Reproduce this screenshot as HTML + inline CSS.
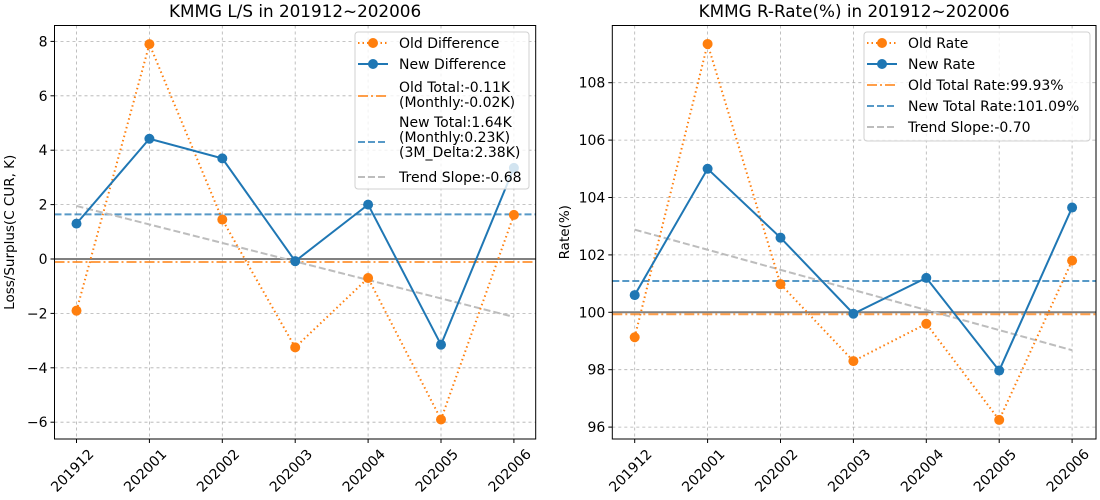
<!DOCTYPE html>
<html><head><meta charset="utf-8"><style>
html,body{margin:0;padding:0;background:#fff;}
svg{display:block;font-family:"DejaVu Sans","Liberation Sans",sans-serif;}
</style></head><body>
<svg id="c" width="1100" height="500" viewBox="0 0 1100 500" xmlns="http://www.w3.org/2000/svg"></svg>
<script>
const categories = ['201912','202001','202002','202003','202004','202005','202006'];
const oldDiff = [-1.9, 7.9, 1.45, -3.25, -0.7, -5.9, 1.62];
const newDiff = [1.3, 4.42, 3.7, -0.08, 2.0, -3.15, 3.35];
const lsTicks = [-6,-4,-2,0,2,4,6,8];
const lsOldTotal = -0.11, lsNewTotal = 1.64, lsTrend = [1.95, -2.13];
const oldRate = [99.13, 109.35, 100.98, 98.3, 99.6, 96.25, 101.8];
const newRate = [100.6, 105.0, 102.6, 99.95, 101.2, 97.97, 103.65];
const rateTicks = [96,98,100,102,104,106,108];
const rateOldTotal = 99.93, rateNewTotal = 101.09, rateTrend = [102.88, 98.68];

const NS='http://www.w3.org/2000/svg';
const svg=document.getElementById('c');
function mk(tag,attrs,parent,text){const e=document.createElementNS(NS,tag);for(const k in attrs)e.setAttribute(k,attrs[k]);if(text!==undefined)e.textContent=text;(parent||svg).appendChild(e);return e;}
const ORANGE='#ff7f0e', BLUE='#1f77b4';

function panel(o){
  const g=mk('g',{});
  
  
  const L=o.left,R=o.right,T=25.5,B=439;
  const x=i=>o.x0+i*72.9;
  const y=v=>o.yRef-(v-o.vRef)*o.ppu;
  categories.forEach((c,i)=>{
    const l=mk('line',{x1:x(i),x2:x(i),y1:T,y2:B,stroke:'#b0b0b0','stroke-width':0.8,'stroke-dasharray':'3,3'},g);
    
  });
  o.ticks.forEach(v=>{
    const l=mk('line',{x1:L,x2:R,y1:y(v),y2:y(v),stroke:'#b0b0b0','stroke-width':0.8,'stroke-dasharray':'3,3'},g);
    
  });
  let h=mk('line',{x1:L,x2:R,y1:y(o.base),y2:y(o.base),stroke:'#808080','stroke-width':2},g);
  
  h=mk('line',{x1:L,x2:R,y1:y(o.oldTotal),y2:y(o.oldTotal),stroke:ORANGE,'stroke-opacity':0.75,'stroke-width':2,'stroke-dasharray':'10,3,2,3'},g);
  
  h=mk('line',{x1:L,x2:R,y1:y(o.newTotal),y2:y(o.newTotal),stroke:BLUE,'stroke-opacity':0.75,'stroke-width':2,'stroke-dasharray':'7,3'},g);
  
  h=mk('line',{x1:x(0),x2:x(6),y1:y(o.trend[0]),y2:y(o.trend[1]),stroke:'#bdbdbd','stroke-width':2,'stroke-dasharray':'7,3'},g);
  
  const pts=a=>a.map((v,i)=>x(i)+','+y(v)).join(' ');
  let p=mk('polyline',{points:pts(o.oldS),fill:'none',stroke:ORANGE,'stroke-width':2,'stroke-dasharray':'1.5,3'},g);
  
  o.oldS.forEach((v,i)=>{const c=mk('circle',{cx:x(i),cy:y(v),r:5,fill:ORANGE},g);});
  p=mk('polyline',{points:pts(o.newS),fill:'none',stroke:BLUE,'stroke-width':2},g);
  
  o.newS.forEach((v,i)=>{const c=mk('circle',{cx:x(i),cy:y(v),r:5,fill:BLUE},g);});
  mk('rect',{x:L-60,y:0,width:R-L+120,height:T,fill:'#fff'},g);
  const f=mk('rect',{x:L,y:T,width:R-L,height:B-T,fill:'none',stroke:'#000','stroke-width':1},g);
  
  categories.forEach((c,i)=>{
    mk('line',{x1:x(i),x2:x(i),y1:B,y2:B+4,stroke:'#000'},g);
    const ax=x(i)+18, ay=B+16;
    const t=mk('text',{x:ax,y:ay,'font-size':14,'text-anchor':'end',transform:`rotate(-45 ${ax} ${ay})`},g,c);
    
  });
  o.ticks.forEach(v=>{
    mk('line',{x1:L-4,x2:L,y1:y(v),y2:y(v),stroke:'#000'},g);
    const t=mk('text',{x:L-7,y:y(v)+5,'font-size':14,'text-anchor':'end'},g,v<0?'\u2212'+(-v):String(v));
    
  });
  let t=mk('text',{x:(L+R)/2,y:17,'font-size':16.8,'text-anchor':'middle'},g,o.title);
  
  t=mk('text',{x:0,y:0,'font-size':13.5,'text-anchor':'middle',transform:`translate(${o.ylabX} ${(T+B)/2}) rotate(-90)`},g,o.ylabel);
  
  const lg=mk('g',{},g);
  
  mk('rect',{x:o.lg.x,y:32,width:o.lg.w,height:o.lg.h,rx:3,fill:'#fff','fill-opacity':0.8,stroke:'#d0d0d0'},lg);
  const hx=o.lg.x+3, tx=o.lg.x+44;
  o.legend.forEach(e=>{
    const cy=e.cy;
    if(e.k==='old'){mk('line',{x1:hx,x2:hx+30,y1:cy,y2:cy,stroke:ORANGE,'stroke-width':2,'stroke-dasharray':'1.5,3'},lg);mk('circle',{cx:hx+15,cy:cy,r:5,fill:ORANGE},lg);}
    if(e.k==='new'){mk('line',{x1:hx,x2:hx+30,y1:cy,y2:cy,stroke:BLUE,'stroke-width':2},lg);mk('circle',{cx:hx+15,cy:cy,r:5,fill:BLUE},lg);}
    if(e.k==='ot')mk('line',{x1:hx,x2:hx+30,y1:cy,y2:cy,stroke:ORANGE,'stroke-opacity':0.75,'stroke-width':2,'stroke-dasharray':'10,3,2,3'},lg);
    if(e.k==='nt')mk('line',{x1:hx,x2:hx+30,y1:cy,y2:cy,stroke:BLUE,'stroke-opacity':0.75,'stroke-width':2,'stroke-dasharray':'7,3'},lg);
    if(e.k==='tr')mk('line',{x1:hx,x2:hx+30,y1:cy,y2:cy,stroke:'#bdbdbd','stroke-width':2,'stroke-dasharray':'7,3'},lg);
    e.lines.forEach((s,j)=>{
      const tt=mk('text',{x:tx,y:e.ty+j*15,'font-size':14},lg,s);
      
    });
  });
}
panel({name:'ls-panel',left:54.5,right:535.7,x0:76.5,yRef:259,vRef:0,ppu:27.2,ticks:lsTicks,
  oldS:oldDiff,newS:newDiff,base:0,oldTotal:lsOldTotal,newTotal:lsNewTotal,trend:lsTrend,
  title:'KMMG L/S in 201912~202006',ylabel:'Loss/Surplus(C CUR, K)',ylabX:14,
  lg:{x:355,w:174,h:157},
  legend:[{k:'old',cy:43,ty:48,lines:['Old Difference']},
          {k:'new',cy:64,ty:69,lines:['New Difference']},
          {k:'ot',cy:96,ty:92,lines:['Old Total:-0.11K','(Monthly:-0.02K)']},
          {k:'nt',cy:142,ty:127,lines:['New Total:1.64K','(Monthly:0.23K)','(3M_Delta:2.38K)']},
          {k:'tr',cy:177,ty:182,lines:['Trend Slope:-0.68']}]});
panel({name:'rate-panel',left:612.3,right:1096,x0:634.7,yRef:312.3,vRef:100,ppu:28.7,ticks:rateTicks,
  oldS:oldRate,newS:newRate,base:100,oldTotal:rateOldTotal,newTotal:rateNewTotal,trend:rateTrend,
  title:'KMMG R-Rate(%) in 201912~202006',ylabel:'Rate(%)',ylabX:569,
  lg:{x:864,w:226,h:109},
  legend:[{k:'old',cy:43,ty:48,lines:['Old Rate']},
          {k:'new',cy:64,ty:69,lines:['New Rate']},
          {k:'ot',cy:85,ty:90,lines:['Old Total Rate:99.93%']},
          {k:'nt',cy:106,ty:111,lines:['New Total Rate:101.09%']},
          {k:'tr',cy:127,ty:132,lines:['Trend Slope:-0.70']}]});
</script>
</body></html>
